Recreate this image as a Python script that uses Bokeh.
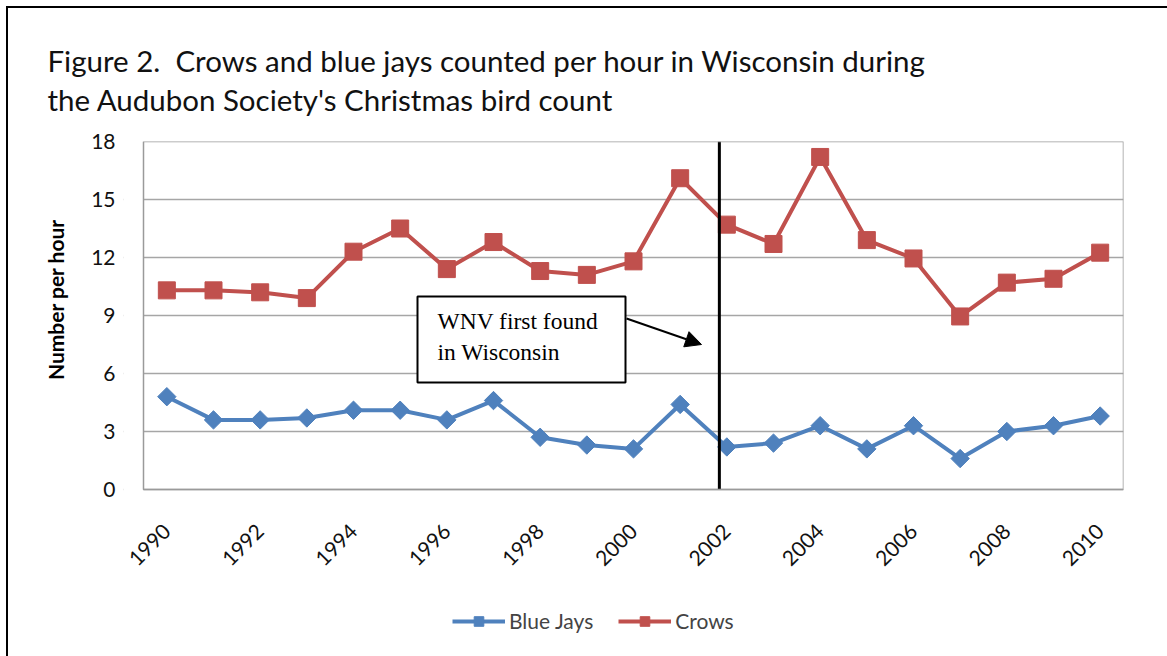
from math import pi
from bokeh.plotting import figure
from bokeh.models import (ColumnDataSource, FixedTicker, Label, BoxAnnotation,
                          Arrow, NormalHead, Legend, LegendItem, Range1d, Title)
from bokeh.embed import file_html
from bokeh.resources import INLINE

years = list(range(1990, 2011))
blue_jays = [4.8, 3.6, 3.6, 3.7, 4.1, 4.1, 3.6, 4.6, 2.7, 2.3, 2.1,
             4.4, 2.2, 2.4, 3.3, 2.1, 3.3, 1.6, 3.0, 3.3, 3.8]
crows = [10.3, 10.3, 10.2, 9.9, 12.3, 13.5, 11.4, 12.8, 11.3, 11.1, 11.8,
         16.1, 13.7, 12.7, 17.2, 12.9, 11.95, 8.95, 10.7, 10.9, 12.25]
y_ticks = [0, 3, 6, 9, 12, 15, 18]
x_ticks = list(range(1990, 2011, 2))
wnv_year = 2001.84
title_lines = ["Figure 2.\u00a0 Crows and blue jays counted per hour in Wisconsin during",
               "the Audubon Society's Christmas bird count"]
y_label = "Number per hour"
note_text = "WNV first found\nin Wisconsin"

X0, X1 = 1989.5, 2010.5
Y0, Y1 = 0, 18

# page geometry in pixels: plot area, frame, and the canvas inside the outer border
PL, PR, PT, PB = 143, 1123, 141, 489
CL, CR, CT, CB = 8, 1167, 8, 656
FRL = 123          # frame starts a little left of the plot area (room for "1990")

def xd(px):
    return X0 + (px - PL) * (X1 - X0) / (PR - PL)

def yd(py):
    return Y0 + (PB - py) * (Y1 - Y0) / (PB - PT)

BLUE = "#4F81BD"
RED = "#C0504D"
GRID = "#a6a6a6"
FONT = "Lato"

p = figure(frame_width=PR - FRL, frame_height=CB - PT,
           output_backend="svg", toolbar_location=None,
           x_range=Range1d(xd(FRL), X1), y_range=Range1d(yd(CB), Y1),
           min_border_left=FRL - CL, min_border_right=CR - PR,
           min_border_top=PT - CT, min_border_bottom=0)
p.styles = {"margin-left": "6px", "margin-top": "6px",
            "border-left": "2px solid black", "border-top": "2px solid black"}
p.background_fill_color = "white"
p.border_fill_color = "white"
p.outline_line_color = None

src = ColumnDataSource(dict(year=years, bj=blue_jays, cr=crows))

bj_line = p.line("year", "bj", source=src, color=BLUE, line_width=4)
bj_mark = p.scatter("year", "bj", source=src, marker="square", angle=pi / 4,
                    size=13, color=BLUE)
cr_line = p.line("year", "cr", source=src, color=RED, line_width=4)
cr_mark = p.scatter("year", "cr", source=src, marker="square", size=17,
                    color=RED)

# WNV marker line across the plot area
p.segment(x0=[wnv_year], y0=[Y0], x1=[wnv_year], y1=[Y1], line_color="black",
          line_width=3)

# axes
p.xaxis.ticker = FixedTicker(ticks=x_ticks)
p.yaxis.ticker = FixedTicker(ticks=y_ticks)
for ax in (p.xaxis[0], p.yaxis[0]):
    ax.axis_line_color = None
    ax.major_tick_line_color = None
    ax.minor_tick_line_color = None
    ax.major_label_text_font = FONT
    ax.major_label_text_font_size = "21px"
    ax.major_label_text_color = "#111111"
p.xaxis.fixed_location = Y0
p.xaxis.major_label_orientation = pi / 4
p.xaxis.major_label_standoff = 32
p.yaxis.major_label_standoff = 22 - (PL - FRL)
# leading no-break spaces lift the centred label to the plot area's middle
p.yaxis.axis_label = "\u00a0" * 39 + y_label
p.yaxis.axis_label_text_font = FONT
p.yaxis.axis_label_text_font_size = "21px"
p.yaxis.axis_label_text_font_style = "bold"
p.yaxis.axis_label_text_color = "#000000"
p.yaxis.axis_label_standoff = 20

p.xgrid.grid_line_color = None
p.ygrid.grid_line_color = GRID
p.ygrid.grid_line_width = 1.5

# keep the grid inside the plot area
p.add_layout(BoxAnnotation(left=xd(FRL), right=X0, bottom=yd(CB), top=Y1,
                           fill_color="white", fill_alpha=1.0, line_alpha=0,
                           level="underlay"))
# plot-area border
p.add_layout(BoxAnnotation(left=X0, right=X1, bottom=Y0, top=Y1, fill_alpha=0,
                           line_color="#9a9a9a", line_alpha=1.0, line_width=1.5))

# annotation box
p.add_layout(BoxAnnotation(left=xd(417), right=xd(625), top=yd(296), bottom=yd(382),
                           fill_color="white", fill_alpha=1.0,
                           line_color="black", line_alpha=1.0, line_width=2,
                           level="overlay"))
p.add_layout(Label(x=xd(437), y=yd(336), text=note_text, text_font="Liberation Serif",
                   text_font_size="23.5px", text_baseline="middle", text_color="black",
                   text_line_height=1.2, level="overlay"))
p.add_layout(Arrow(x_start=xd(626), y_start=yd(318), x_end=xd(701), y_end=yd(344),
                   line_color="black", line_width=2,
                   end=NormalHead(size=16, fill_color="black", line_color="black")))

# two-line title above the plot
p.add_layout(Title(text="\n".join(title_lines), align="left", offset=47 - FRL,
                   standoff=50, text_font=FONT, text_font_size="29.5px",
                   text_font_style="normal", text_color="#111111",
                   text_line_height=1.1), "above")

legend = Legend(items=[LegendItem(label="Blue Jays", renderers=[bj_line, bj_mark]),
                       LegendItem(label="Crows", renderers=[cr_line, cr_mark])],
                location=(452 - FRL, CB - 633), orientation="horizontal",
                border_line_color=None, background_fill_alpha=0,
                label_text_font=FONT, label_text_font_size="21px",
                glyph_width=53, glyph_height=24, label_standoff=4, spacing=25,
                padding=0, margin=0)
p.add_layout(legend, "center")

open("out.html", "w").write(file_html(p, INLINE))
